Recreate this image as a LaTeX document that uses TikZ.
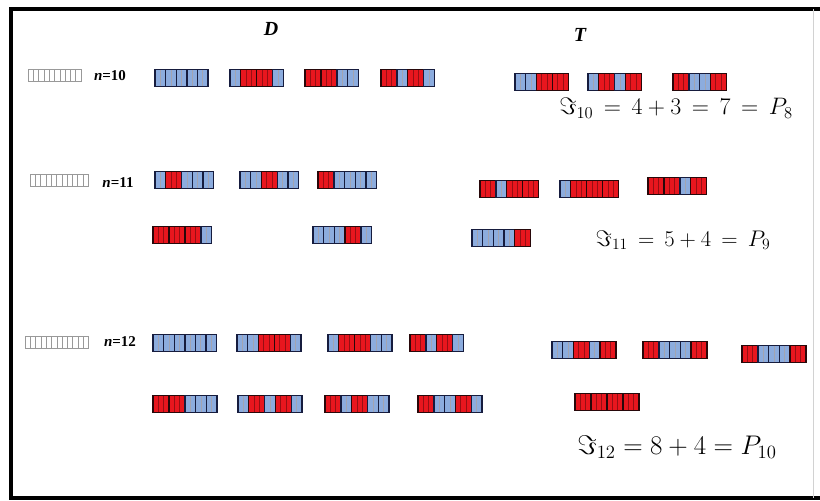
\documentclass[tikz,border=0pt]{standalone}
\usepackage{amsmath,amsfonts,graphicx}
\usepackage{fontspec}
\setmainfont{Liberation Serif}
\usepackage{xcolor}
\usepackage{tikz}
\usetikzlibrary{positioning,calc}

\definecolor{tileblue}{RGB}{140,172,222}
\definecolor{tilenavy}{RGB}{22,28,62}
\definecolor{tilered}{RGB}{232,22,30}
\definecolor{tiledark}{RGB}{40,8,10}

\tikzset{
  dom/.style={draw=tilenavy,fill=tileblue,line width=1.4pt,minimum width=10.6pt,minimum height=17pt,
    inner sep=0pt,outer sep=0pt,
    path picture={\draw[tilenavy!40,line width=0.5pt] (path picture bounding box.north) -- (path picture bounding box.south);}},
  tri/.style={draw=tiledark,fill=tilered,line width=1.4pt,minimum width=16pt,minimum height=17pt,
    inner sep=0pt,outer sep=0pt,
    path picture={\draw[tilered!65!black,line width=0.4pt]
      ($(path picture bounding box.north west)!1/3!(path picture bounding box.north east)$) --
      ($(path picture bounding box.south west)!1/3!(path picture bounding box.south east)$)
      ($(path picture bounding box.north west)!2/3!(path picture bounding box.north east)$) --
      ($(path picture bounding box.south west)!2/3!(path picture bounding box.south east)$);}},
  board/.style={draw=gray!80,line width=0.6pt},
  nlabel/.style={font=\bfseries\fontsize{15}{15}\selectfont},
  head/.style={font=\bfseries\itshape\fontsize{20}{20}\selectfont},
  sumtext/.style={font=\fontsize{20.74}{24}\selectfont}
}

\newcommand{\tiling}[3]{%
  \foreach \kind [count=\i, remember=\i as \j (initially 0)] in {#3}{%
    \ifnum\i=1 \node[\kind,anchor=west] (#1-\i) at (#2) {};%
    \else \node[\kind,right=0pt of #1-\j] (#1-\i) {};\fi}}

\newcommand{\emptyboard}[3]{%
  \draw[board] (#1,#2-6) rectangle ++(#3*5.3,12);
  \foreach \k in {1,...,#3} \draw[board] (#1+\k*5.3-5.3,#2-6) -- ++(0,12);}

\begin{document}
\begin{tikzpicture}[x=1pt,y=-1pt]
    \useasboundingbox (0,0) rectangle (820,501);
    \draw[line width=3.5pt] (820,9) -- (11,9) -- (11,498) -- (820,498);
    \draw[gray!35] (813,9) -- (813,498);

    \node[head] (D) at (271,29) {D};
    \node[head] (T) at (580,35) {T};

    \emptyboard{28}{75}{10}
    \node[nlabel] (n10) at (110,76) {\textit{n}=10};
    \tiling{a1}{155,78}{dom,dom,dom,dom,dom}
    \tiling{a2}{230,78}{dom,tri,tri,dom}
    \tiling{a3}{305,78}{tri,tri,dom,dom}
    \tiling{a4}{381,78}{tri,dom,tri,dom}
    \tiling{a5}{515,82}{dom,dom,tri,tri}
    \tiling{a6}{588,82}{dom,tri,dom,tri}
    \tiling{a7}{673,82}{tri,dom,dom,tri}
    \node[sumtext] (s10) at (676,108) {\scalebox{1.15}{$\Im_{10} \,=\, 4+3 \,=\, 7 \,=\, P_8$}};

    \emptyboard{30}{180}{11}
    \node[nlabel] (n11) at (118,183) {\textit{n}=11};
    \tiling{b1}{155,180}{dom,tri,dom,dom,dom}
    \tiling{b2}{240,180}{dom,dom,tri,dom,dom}
    \tiling{b3}{318,180}{tri,dom,dom,dom,dom}
    \tiling{b4}{153,235}{tri,tri,tri,dom}
    \tiling{b5}{313,235}{dom,dom,dom,tri,dom}
    \tiling{b6}{480,189}{tri,dom,tri,tri}
    \tiling{b7}{560,189}{dom,tri,tri,tri}
    \tiling{b8}{648,186}{tri,tri,dom,tri}
    \tiling{b9}{472,238}{dom,dom,dom,dom,tri}
    \node[sumtext] (s11) at (683,240) {\scalebox{1.09}{$\Im_{11} \,=\, 5+4 \,=\, P_9$}};

    \emptyboard{25}{342}{12}
    \node[nlabel] (n12) at (120,342) {\textit{n}=12};
    \tiling{c1}{153,343}{dom,dom,dom,dom,dom,dom}
    \tiling{c2}{237,343}{dom,dom,tri,tri,dom}
    \tiling{c3}{328,343}{dom,tri,tri,dom,dom}
    \tiling{c4}{410,343}{tri,dom,tri,dom}
    \tiling{c5}{153,404}{tri,tri,dom,dom,dom}
    \tiling{c6}{238,404}{dom,tri,dom,tri,dom}
    \tiling{c7}{325,404}{tri,dom,tri,dom,dom}
    \tiling{c8}{418,404}{tri,dom,dom,tri,dom}
    \tiling{c9}{552,350}{dom,dom,tri,dom,tri}
    \tiling{c10}{643,350}{tri,dom,dom,dom,tri}
    \tiling{c11}{742,354}{tri,dom,dom,dom,tri}
    \tiling{c12}{575,402}{tri,tri,tri,tri}
    \node[sumtext] (s12) at (677,447) {\scalebox{1.3}{$\Im_{12} = 8+4 = P_{10}$}};
\end{tikzpicture}
\end{document}
